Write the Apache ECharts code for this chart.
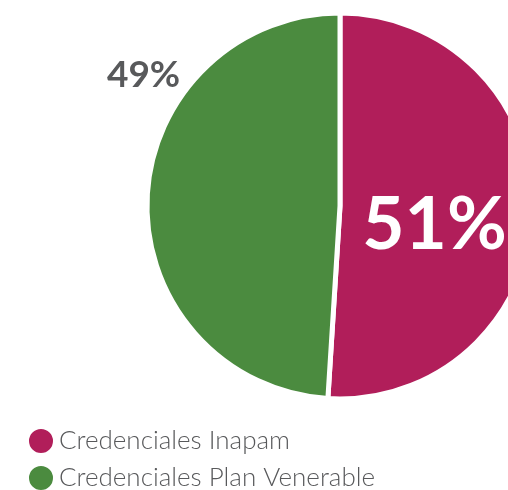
<!DOCTYPE html>
<html>
<head>
<meta charset="utf-8">
<script src="https://cdn.jsdelivr.net/npm/echarts@6/dist/echarts.min.js"></script>
<style>
  html, body { margin: 0; padding: 0; background: #fff; }
  #chart { width: 508px; height: 490px; }
</style>
</head>
<body>
<div id="chart"></div>
<script>
const categories = ['Credenciales Inapam', 'Credenciales Plan Venerable']
const values = [51, 49]
const colors = ['#B11E5A', '#4B8B3F']

const chart = echarts.init(document.getElementById('chart'))

// label looks: big white inside the magenta, grey one up-left of the green
const labelStyles = [
  { size: 73, color: '#ffffff', offset: [-5, 16] },
  { size: 37, color: '#58595B', offset: [-97, -128] }
]

const option = {
  animation: false,
  legend: {
    orient: 'vertical',
    left: 27,
    top: 427,
    height: 90,
    padding: 0,
    icon: 'circle',
    itemWidth: 26,
    itemHeight: 26,
    itemGap: 9,
    textStyle: {
      fontFamily: 'Lato',
      fontWeight: 300,
      fontSize: 26,
      lineHeight: 26,
      color: '#58595B'
    },
    data: categories
  },
  series: [
    {
      type: 'pie',
      center: [340, 206],
      radius: [0, 193],
      startAngle: 90,
      clockwise: true,
      itemStyle: {
        borderColor: '#ffffff',
        borderWidth: 5
      },
      labelLine: { show: false },
      data: categories.map((name, i) => ({
        name: name,
        value: values[i],
        itemStyle: { color: colors[i] },
        label: {
          show: true,
          position: 'inside',
          formatter: '{c}%',
          fontFamily: 'Lato',
          fontWeight: 'bold',
          fontSize: labelStyles[i].size,
          color: labelStyles[i].color,
          offset: labelStyles[i].offset
        }
      }))
    }
  ]
}

chart.setOption(option)
</script>
</body>
</html>
